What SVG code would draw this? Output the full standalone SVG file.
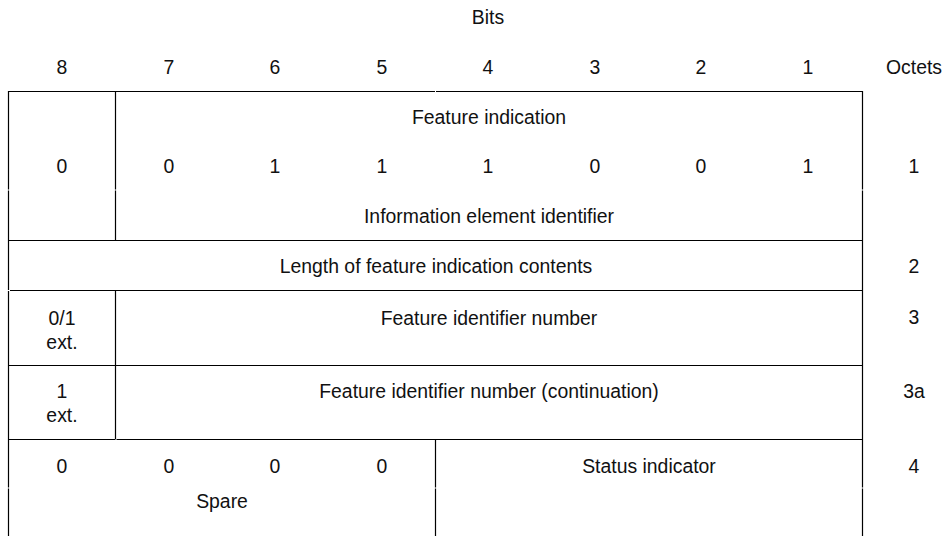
<svg xmlns="http://www.w3.org/2000/svg" width="945" height="536" viewBox="0 0 945 536">
  <style>
    text { font-family: "Liberation Sans", Arial, sans-serif; font-size: 19.4px; fill: #111; text-anchor: middle; }
    .rule { stroke: #000; stroke-width: 1.2; fill: none; }
  </style>
  <rect width="945" height="536" fill="#fff"/>

  <!-- Column headings -->
  <g id="headings">
    <text x="488" y="24">Bits</text>
    <text x="62" y="74">8</text>
    <text x="169" y="74">7</text>
    <text x="275" y="74">6</text>
    <text x="382" y="74">5</text>
    <text x="488" y="74">4</text>
    <text x="595" y="74">3</text>
    <text x="701" y="74">2</text>
    <text x="808" y="74">1</text>
    <text x="914" y="74">Octets</text>
  </g>

  <!-- Grid rules -->
  <g id="grid">
    <path class="rule" d="M8.5 91 V189.5 M8.5 190.5 V290 M8.5 291 V487.5 M8.5 488.5 V536"/>
    <path class="rule" d="M115.5 91 V189.5 M115.5 190.5 V240.5 M115.5 290.5 V439.5"/>
    <path class="rule" d="M435.5 439.5 V487.5 M435.5 488.5 V536"/>
    <path class="rule" d="M862.5 91 V189.5 M862.5 190.5 V487.5 M862.5 488.5 V536"/>
    <path class="rule" d="M8 91.5 H435 M436 91.5 H863"/>
    <path class="rule" d="M8 240.5 H863"/>
    <path class="rule" d="M10 290.5 H863"/>
    <path class="rule" d="M8 365.5 H863"/>
    <path class="rule" d="M8 439.5 H115 M116.5 439.5 H863"/>
  </g>

  <!-- Octet 1 -->
  <g id="octet1">
    <text x="489" y="124">Feature indication</text>
    <text x="62" y="173">0</text>
    <text x="169" y="173">0</text>
    <text x="275" y="173">1</text>
    <text x="382" y="173">1</text>
    <text x="488" y="173">1</text>
    <text x="595" y="173">0</text>
    <text x="701" y="173">0</text>
    <text x="808" y="173">1</text>
    <text x="489" y="223">Information element identifier</text>
    <text x="914" y="173">1</text>
  </g>

  <!-- Octet 2 -->
  <g id="octet2">
    <text x="436" y="273">Length of feature indication contents</text>
    <text x="914" y="273">2</text>
  </g>

  <!-- Octet 3 -->
  <g id="octet3">
    <text x="62" y="325">0/1</text>
    <text x="62" y="349">ext.</text>
    <text x="489" y="325">Feature identifier number</text>
    <text x="914" y="324">3</text>
  </g>

  <!-- Octet 3a -->
  <g id="octet3a">
    <text x="62" y="398">1</text>
    <text x="62" y="422">ext.</text>
    <text x="489" y="398">Feature identifier number (continuation)</text>
    <text x="914" y="398">3a</text>
  </g>

  <!-- Octet 4 -->
  <g id="octet4">
    <text x="62" y="473">0</text>
    <text x="169" y="473">0</text>
    <text x="275" y="473">0</text>
    <text x="382" y="473">0</text>
    <text x="222" y="508">Spare</text>
    <text x="649" y="473">Status indicator</text>
    <text x="914" y="473">4</text>
  </g>
</svg>
